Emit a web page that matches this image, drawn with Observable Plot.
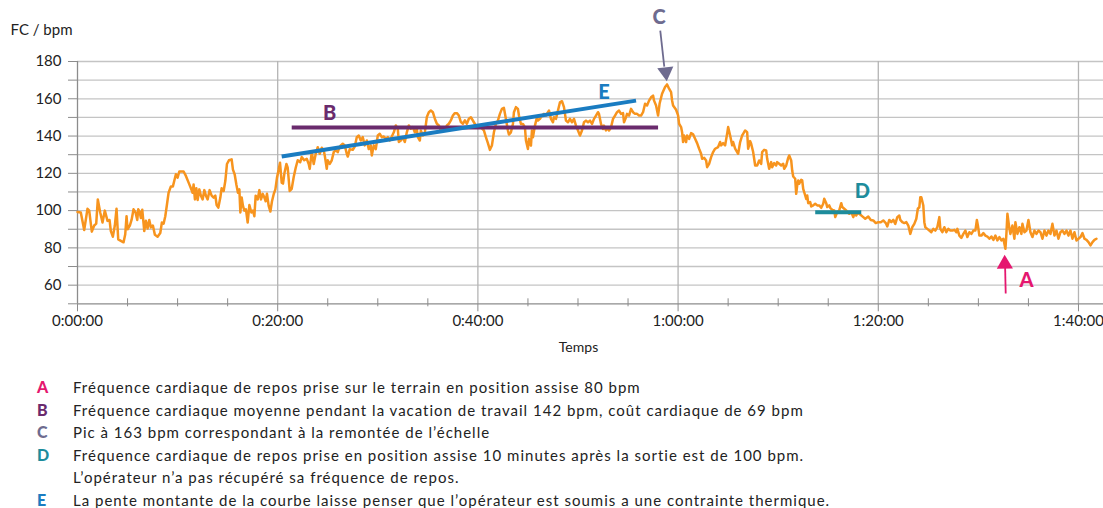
<!DOCTYPE html>
<html>
<head>
<meta charset="utf-8">
<script src="https://cdn.jsdelivr.net/npm/d3@7"></script>
<script src="https://cdn.jsdelivr.net/npm/@observablehq/plot@0.6"></script>
<style>
  html, body { margin: 0; padding: 0; background: #fff; }
  #chart svg { display: block; overflow: visible; }
  #legend { margin-top: 16px; font-family: Lato, "Open Sans", sans-serif; font-size: 15px; line-height: 22.6px; color: #222; letter-spacing: 1px; }
  .row { display: flex; white-space: nowrap; }
  .k { display: inline-block; width: 36px; margin-left: 37px; font-weight: 900; font-size: 16px; letter-spacing: 0; }
</style>
</head>
<body>
<div id="chart"></div>
<div id="legend"></div>
<script>
// ---- Heart-rate series: [minutes since start, bpm] ----
const hrRest = [
  [0,99.3],[0.33,99],[0.67,89.6],[1.0,101],[1.17,100],[1.43,88.7],[1.67,92],[1.87,93],[2.03,106],[2.27,99],
  [2.5,93.6],[2.73,100],[3.0,94.5],[3.2,95],[3.33,89],[3.53,86],[3.73,92],[3.9,101],[4.07,84.6],[4.33,83.8],
  [4.6,83],[4.77,87.3],[4.9,97],[5.0,90],[5.23,92],[5.4,95],[5.6,100.7],[5.8,99],[5.97,95],[6.07,100.7],
  [6.2,99.5],[6.33,96],[6.47,100.5],[6.67,89],[6.83,94.5],[7.0,90.4],[7.17,95],[7.33,91],[7.53,92],[7.73,87],
  [8.0,86],[8.27,88],[8.43,93.6],[8.6,93],[8.77,97],[8.93,103],[9.1,109.6],[9.33,113],[9.53,113],[9.67,116],
  [9.83,119.5],[10.0,117.7],[10.17,121],[10.4,121],[10.6,121],[10.83,118.6],[11.1,115],[11.33,112],[11.5,109.6],[11.6,114],
  [11.73,106],[11.87,112],[12.0,105.7],[12.17,111.4],[12.33,108],[12.5,106],[12.67,111],[12.83,108],[13.0,106],[13.2,111],
  [13.4,108],[13.6,107],[13.77,108],[13.9,103],[14.07,101.6],[14.27,107],[14.4,112],[14.6,110.5],[14.77,116],[14.93,125],
  [15.13,127],[15.4,127.5],[15.53,122],[15.7,119.5],[15.87,114],[16.03,109.6],[16.17,111.4],[16.27,99],[16.4,107],[16.53,102.5],
  [16.67,100],[16.83,100.7],[17.0,93.6],[17.17,103],[17.37,99],[17.53,100],[17.67,97],[17.8,108],[18.0,106],[18.17,111],
  [18.33,106],[18.5,109],[18.67,107],[18.8,105],[18.93,109],[19.1,102.5],[19.27,99.5],[19.43,105],[19.6,108.8],[19.77,111.4],
  [19.93,117.7],[20.1,122],[20.23,125.7],[20.4,115],[20.53,114.5],[20.67,120],[20.87,125],[21.0,123],[21.2,110.5]
];
const hrWork1 = [
  [21.4,111.7],[21.6,118],[21.8,123],[22.0,127],[22.25,126],[22.4,128.7],[22.65,127],[22.9,127.8],[23.1,125],[23.2,122.4],
  [23.4,131.4],[23.6,125],[23.8,130.5],[24.0,134],[24.2,130.5],[24.4,133.7],[24.6,132.3],[24.7,129.6],[24.9,122.4],[25.0,127],
  [25.2,125],[25.4,127],[25.6,131.4],[25.8,132.3],[26.0,131.4],[26.1,133],[26.3,135],[26.5,135.9],[26.7,135],[26.9,130.5],
  [27.0,129],[27.2,133],[27.5,132.6],[27.7,134.4],[27.9,139.4],[28.1,140.3],[28.3,137.6],[28.5,139.4],[28.7,135],[28.9,137.6],
  [29.1,133],[29.3,135],[29.4,129.6],[29.6,135],[29.8,133],[30.0,140.3],[30.2,141.2],[30.4,139.4],[30.6,139.8],[30.8,138.5],
  [31.0,139.4],[31.2,137.6],[31.4,139.8],[31.6,142],[31.8,145.7],[32.0,143.9],[32.1,136.8],[32.3,137.6],[32.5,139.4],[32.7,136.8],
  [32.9,142],[33.1,145.7],[33.3,143.9],[33.5,144.8],[33.7,142],[33.9,143.9],[34.0,139.4],[34.2,137.6],[34.3,143],[34.5,140.3],
  [34.7,142],[34.9,150.2],[35.1,152.8],[35.3,153.7],[35.5,152.8],[35.7,149.3],[35.9,146.6],[36.1,145.7],[36.3,143],[36.5,143.9],
  [36.7,143],[36.9,145.7],[37.1,146.6],[37.3,148.4],[37.5,151],[37.7,152.3],[37.9,152.3],[38.1,151],[38.3,147.5],[38.5,146.6],
  [38.7,148.4],[38.9,146.6],[39.1,149.3]
];
const hrWork2 = [
  [39.3,150.1],[39.6,147.4],[39.8,145.6],[40.0,145.6],[40.3,144.7],[40.6,143],[40.8,139.4],[41.0,136.2],[41.2,132.6],[41.4,134.9],
  [41.6,142],[41.8,146.5],[42.0,148.3],[42.2,151.9],[42.4,154.6],[42.6,155.1],[42.8,149.2],[43.0,143],[43.1,140.8],[43.3,142],
  [43.5,146.5],[43.6,152.8],[43.8,155.5],[44.0,154.6],[44.1,151],[44.3,146.5],[44.5,146.5],[44.7,144.7],[44.8,137.6],[45.0,133.1],
  [45.1,138.5],[45.3,134.9],[45.4,143],[45.5,139.4],[45.7,145.6],[45.9,150.1],[46.0,148.3],[46.2,149.2],[46.4,151],[46.6,151.9],
  [46.8,151],[47.0,152.8],[47.1,153.7],[47.3,149.2],[47.5,147.4],[47.6,150.1],[47.8,149.2],[48.0,153.7],[48.2,158.1],[48.4,158.7],
  [48.6,155.5],[48.8,148.3],[49.0,147.4],[49.2,149.2],[49.4,147.4],[49.6,149.2],[49.8,145.6],[50.0,143],[50.2,140.3],[50.4,143],
  [50.6,147.4],[50.8,148.3],[51.0,147.4],[51.2,148.3],[51.4,146.5],[51.6,149.2],[51.8,151],[52.0,152.8],[52.1,151.9],[52.3,146.5],
  [52.5,143.8],[52.6,145.6],[52.8,143],[52.9,144.7],[53.1,143],[53.3,144.7],[53.5,149.2],[53.7,151],[53.9,152.8],[54.1,153.7],
  [54.3,151.9],[54.5,152.3],[54.6,147.4],[54.8,150.1],[54.9,151.9],[55.1,151],[55.3,154.6],[55.5,152.8],[55.7,151.9],[55.9,151.9],
  [56.1,151],[56.3,151],[56.5,152.8],[56.7,157.3],[56.9,156.4],[57.1,159],[57.3,160.8],[57.5,161.7],[57.6,159],[57.8,156.4],
  [58.0,151]
];
const hrRecovery = [
  [58.15,157.3],[58.4,162.7],[58.7,166.3],[58.9,167.7],[59.1,165.4],[59.3,163.6],[59.4,159.1],[59.5,156.4],[59.8,154.1],[60.0,151.1],
  [60.1,146.6],[60.3,144.8],[60.4,142.1],[60.5,136.8],[60.6,140.3],[60.8,136.8],[60.9,140.3],[61.1,138.5],[61.3,141.6],[61.5,140.9],
  [61.7,138.5],[61.9,136.2],[62.1,133.2],[62.3,130.5],[62.4,127.8],[62.6,128.3],[62.8,126.9],[62.9,123.3],[63.1,125.1],[63.3,128.7],
  [63.5,131.4],[63.7,133.2],[64.0,134.1],[64.2,136.8],[64.3,135],[64.5,136.2],[64.7,135],[64.9,141.2],[65.0,144.8],[65.2,140.3],
  [65.4,135],[65.5,136.8],[65.7,133.2],[65.9,131.4],[66.0,130.5],[66.2,136.8],[66.4,140.3],[66.5,141.2],[66.7,143],[66.9,142.1],
  [67.0,133.2],[67.2,137.3],[67.3,135.9],[67.5,131.4],[67.6,127.8],[67.7,124.2],[67.9,124.2],[68.1,126.9],[68.3,125.1],[68.4,131.4],
  [68.6,132.6],[68.8,132.3],[68.9,127.8],[69.1,122.4],[69.3,126],[69.4,123.3],[69.6,125.5],[69.8,124.2],[69.9,126],[70.1,125.1],
  [70.3,124.2],[70.5,125.1],[70.6,122.4],[70.8,124.2],[71.0,128.3],[71.1,129.6],[71.3,126.9],[71.4,121.5],[71.5,118.3],[71.7,117.1],
  [71.8,109],[71.9,113.5],[72.0,116.2],[72.1,114.4],[72.3,116.5],[72.4,116.2],[72.5,111.7],[72.7,108.1],[72.8,106.3],[72.9,108.1],
  [73.0,104],[73.2,104.6],[73.3,102.2],[73.5,102.8],[73.7,103.7],[73.9,102.8],[74.1,102.8],[74.3,101.5],[74.5,103.7],[74.6,106.4],
  [74.8,104],[74.9,101.9],[75.1,102.8],[75.2,101.5],[75.4,100.4],[75.6,100.1],[75.7,96.5],[75.9,99.2],[76.1,100.1],[76.3,104],
  [76.4,101.9],[76.6,101],[76.8,100.1],[76.9,99.2],[77.1,98.3],[77.3,99.2],[77.5,96.5],[77.6,98.3],[77.8,97.4],[78.0,99.2],
  [78.1,98.3]
];
const hrSeated = [
  [78.5,96.5],[78.7,95.6],[79.0,96.8],[79.25,95],[79.5,94.7],[79.75,93.3],[80.0,93.8],[80.25,93.8],[80.5,94.7],[80.75,93.3],
  [80.9,91.5],[81.1,95],[81.3,93.8],[81.5,95],[81.7,92.9],[81.9,96.5],[82.1,97.4],[82.2,95],[82.4,93.8],[82.6,93.3],
  [82.8,93.8],[83.0,92],[83.2,87.5],[83.4,91.1],[83.6,92.9],[83.8,95.6],[83.95,101],[84.1,101.8],[84.2,107.2],[84.3,107.2],
  [84.5,102.7],[84.6,93.8],[84.7,91.1],[84.9,90.2],[85.1,89.3],[85.3,88.4],[85.5,90.2],[85.7,89.3],[85.9,91.1],[86.1,96.5],
  [86.2,90.2],[86.4,88.4],[86.6,91.1],[86.8,88.4],[87.0,90.2],[87.2,89.3],[87.4,89.3],[87.6,89.7],[87.8,88.4],[87.9,90.2],
  [88.1,86.6],[88.3,85.4],[88.5,87.5],[88.7,89.3],[88.9,85.8],[89.1,88.4],[89.3,87.5],[89.5,89.3],[89.7,89.3],[89.85,95],
  [89.95,92],[90.1,86.6],[90.3,86.6],[90.5,87.9],[90.7,86.6],[90.9,86.1],[91.1,84.9],[91.3,86.1],[91.5,84.3],[91.7,86.6],
  [91.9,84],[92.1,85.8],[92.3,84],[92.5,84.9],[92.7,79.5],[92.8,87.5],[92.9,98.3],[93.1,90.2],[93.2,87.5],[93.4,92],
  [93.6,84.9],[93.7,93.8],[93.9,87.5],[94.1,91.1],[94.3,87.5],[94.4,92.9],[94.6,88.4],[94.8,89.3],[95.0,95],[95.2,88.4],
  [95.4,85.8],[95.6,89.3],[95.8,87.5],[96.0,89.3],[96.2,88.4],[96.4,84.9],[96.6,89.3],[96.8,86.6],[97.0,89.3],[97.2,87.5],
  [97.4,92.9],[97.6,86.6],[97.8,89.3],[98.0,84.9],[98.2,88.4],[98.4,89.3],[98.6,87.5],[98.8,89.3],[99.0,86.6],[99.2,89.3],
  [99.4,84.9],[99.6,88.4],[99.8,84],[100.0,84.9],[100.2,85.8],[100.4,87.9],[100.6,84.9],[100.8,84.3],[101.0,83.1],[101.2,81.3],
  [101.4,83.1],[101.6,84.3],[101.8,84.9]
];

// ---- Axes ----
const xMajorTicks = [0, 20, 40, 60, 80, 100];
const xMajorLabels = ["0:00:00", "0:20:00", "0:40:00", "1:00:00", "1:20:00", "1:40:00"];
const xMinorTicks = [5, 10, 15, 25, 30, 35, 45, 50, 55, 65, 70, 75, 85, 90, 95];
const yTicks = [50, 60, 70, 80, 90, 100, 110, 120, 130, 140, 150, 160, 170, 180];

// ---- Annotations ----
const annLetters = ["A", "B", "C", "D", "E"];
const annColors = ["#e5176f", "#6a2b6d", "#6e6b8f", "#1d8c9c", "#1a7cc1"];
const annLabelMin = [94.8, 25.2, 58.1, 78.4, 52.6];
const annLabelBpm = [62.5, 152.1, 203.6, 110.2, 163.4];
// segments B, E, D : [start min, start bpm, end min, end bpm]
const segB = [21.4, 144.6, 58.0, 144.6];
const segE = [20.4, 129, 55.8, 159];
const segD = [73.7, 99.1, 78.3, 99.1];
// arrows C and A : [tail min, tail bpm, neck min, neck bpm, head min, head bpm]
const arrowC = [58.22, 196.6, 58.62, 177.3, 58.77, 174.4];
const arrowA = [92.73, 55.5, 92.67, 70.0, 92.64, 71.35];

const legendTexts = [
  "Fréquence cardiaque de repos prise sur le terrain en position assise 80 bpm",
  "Fréquence cardiaque moyenne pendant la vacation de travail 142 bpm, coût cardiaque de 69 bpm",
  "Pic à 163 bpm correspondant à la remontée de l’échelle",
  "Fréquence cardiaque de repos prise en position assise 10 minutes après la sortie est de 100 bpm.",
  "La pente montante de la courbe laisse penser que l’opérateur est soumis a une contrainte thermique."
];
const legendExtraD = "L’opérateur n’a pas récupéré sa fréquence de repos.";

// ---- Build ----
const series = [...hrRest, ...hrWork1, ...hrWork2, ...hrRecovery, ...hrSeated].map(([t, v]) => ({t, v}));
const segs = [
  {x1: segB[0], y1: segB[1], x2: segB[2], y2: segB[3], c: annColors[1]},
  {x1: segE[0], y1: segE[1], x2: segE[2], y2: segE[3], c: annColors[4]},
  {x1: segD[0], y1: segD[1], x2: segD[2], y2: segD[3], c: annColors[3]}
];
const arrows = [
  {a: arrowC, c: annColors[2], rot: 174},
  {a: arrowA, c: annColors[0], rot: -1}
];
const labels = annLetters.map((l, i) => ({l, x: annLabelMin[i], y: annLabelBpm[i], c: annColors[i]}));

const axisColor = "#8c8c8c";
const H = 360;
const chart = Plot.plot({
  width: 1103,
  height: H,
  marginLeft: 77,
  marginRight: 0,
  marginTop: 61,
  marginBottom: H - 303.3,
  x: {domain: [0, 102.5]},
  y: {domain: [50, 180]},
  style: {fontFamily: "Lato, 'Open Sans', sans-serif", color: "#222", background: "white"},
  marks: [
    Plot.gridY(yTicks.slice(1), {stroke: "#c4c4c4", strokeOpacity: 1, strokeWidth: 1.3}),
    Plot.gridX(xMajorTicks.slice(1), {stroke: "#b4b4b4", strokeOpacity: 1, strokeWidth: 1.3}),
    Plot.ruleY([50], {stroke: axisColor, strokeWidth: 1.3}),
    Plot.ruleX([0], {stroke: axisColor, strokeWidth: 1.3}),
    Plot.axisY(yTicks, {tickSize: 9, tickPadding: 7, fontSize: 15, stroke: axisColor, fill: "#222",
      tickFormat: d => (d % 20 === 0 ? d : ""), label: null}),
    Plot.axisX(xMajorTicks, {tickSize: 8, tickPadding: 4, fontSize: 15, stroke: axisColor, fill: "#222",
      tickFormat: d => xMajorLabels[xMajorTicks.indexOf(d)], label: null}),
    Plot.axisX(xMinorTicks, {tickSize: 8, dy: -5, stroke: axisColor, tickFormat: () => "", label: null}),
    Plot.text(["FC / bpm"], {frameAnchor: "top-left", dx: -67, dy: -37, textAnchor: "start", fontSize: 15, fill: "#222"}),
    Plot.text(["Temps"], {frameAnchor: "bottom", dx: -12, dy: 48, fontSize: 14, fill: "#222"}),
    Plot.line(series, {x: "t", y: "v", stroke: "#f7941e", strokeWidth: 2.5, strokeLinejoin: "round"}),
    Plot.link(segs, {x1: "x1", y1: "y1", x2: "x2", y2: "y2", stroke: "c", strokeWidth: 4}),
    Plot.link(arrows, {x1: d => d.a[0], y1: d => d.a[1], x2: d => d.a[2], y2: d => d.a[3], stroke: "c", strokeWidth: 1.8}),
    ...arrows.map(d => Plot.dot([d], {x: () => d.a[4], y: () => d.a[5], symbol: "triangle", r: 6, fill: d.c, stroke: "none", rotate: d.rot})),
    Plot.text(labels, {x: "x", y: "y", text: "l", fill: "c", fontSize: 20, fontWeight: 900})
  ]
});
document.getElementById("chart").append(chart);

// ---- Legend ----
const legend = document.getElementById("legend");
annLetters.forEach((l, i) => {
  const row = document.createElement("div");
  row.className = "row";
  row.innerHTML = `<span class="k" style="color:${annColors[i]}">${l}</span><span>${legendTexts[i]}</span>`;
  legend.append(row);
  if (l === "D") {
    const row2 = document.createElement("div");
    row2.className = "row";
    row2.innerHTML = `<span class="k"></span><span>${legendExtraD}</span>`;
    legend.append(row2);
  }
});
</script>
</body>
</html>
